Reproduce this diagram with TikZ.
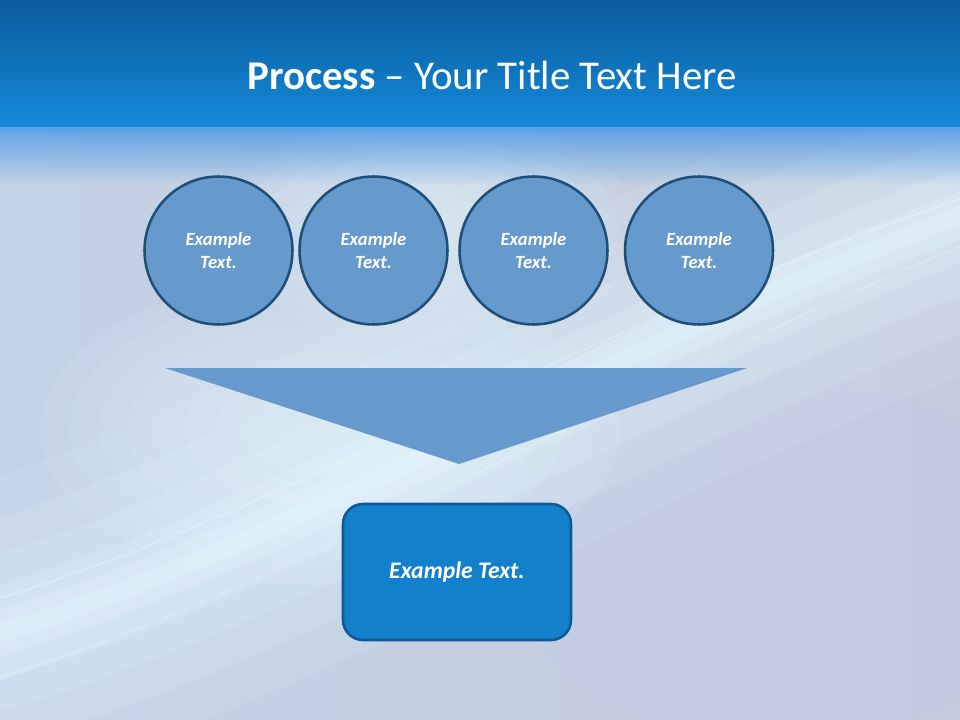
\documentclass[tikz,border=0pt]{standalone}
\usepackage{fontspec}
\setmainfont{Carlito}
\usetikzlibrary{shapes.geometric,fadings}
\definecolor{hdtop}{HTML}{0A5C9C}
\definecolor{hdbot}{HTML}{1489D8}
\definecolor{bgbase}{HTML}{C4D2E6}
\definecolor{bgright}{HTML}{C4CCDC}
\definecolor{circfill}{HTML}{6699CC}
\definecolor{circline}{HTML}{1F4E79}
\definecolor{boxfill}{HTML}{1380CC}
\definecolor{boxline}{HTML}{0F5A96}
\definecolor{glow}{HTML}{E6F8FF}
\definecolor{strip}{HTML}{5EA3E6}
\tikzset{
  stepcirc/.style={circle, draw=circline, line width=1.9pt, fill=circfill,
    minimum size=111pt, inner sep=0pt,
    text=white, font=\fontsize{14}{17}\selectfont\bfseries\itshape, align=center},
  resultbox/.style={rectangle, rounded corners=15pt, draw=boxline, line width=1.9pt,
    fill=boxfill, minimum width=171pt, minimum height=102pt, text=white,
    font=\fontsize{17.8}{21}\selectfont\bfseries\itshape},
  glowband/.style={draw=glow, line cap=round}
}
\begin{document}
\begin{tikzpicture}[x=0.75pt,y=-0.75pt]
\useasboundingbox (0,0) rectangle (960,720);
% background
\fill[bgbase] (0,0) rectangle (960,720);
\begin{scope}
\clip (0,127) rectangle (960,720);
\fill[left color=bgbase, right color=bgright] (0,127) rectangle (960,720);
\fill[blue!25, opacity=0.12] (780,560) ellipse (280 and 180);
\foreach \s in {1.0,0.9,0.8,0.7,0.6,0.5,0.4,0.3,0.2}{
  \fill[glow, opacity=0.09] (430,230) ellipse ({210*\s} and {115*\s});
  \fill[glow, opacity=0.09] (330,430) ellipse ({290*\s} and {155*\s});
}
\foreach \w/\o in {300/0.10, 220/0.14, 150/0.18, 90/0.22, 45/0.28, 18/0.32}{
  \draw[glowband, line width=\w*0.75pt, opacity=\o]
    (-60,650) .. controls (280,560) and (520,380) .. (1000,200);
}
\draw[white, opacity=0.3, line width=1pt]
    (-40,610) .. controls (280,520) and (540,340) .. (1000,185);
\draw[white, opacity=0.25, line width=0.8pt]
    (-40,690) .. controls (300,590) and (580,400) .. (1000,230);
\fill[strip, path fading=south] (0,127) rectangle (960,185);
\fill[strip] (0,127) rectangle (960,132);
\end{scope}
% header
\fill[top color=hdtop, bottom color=hdbot] (0,0) rectangle (960,127);
\node[text=white, font=\fontsize{30.7}{36}\selectfont] (title) at (492,75)
  {\textbf{Process} – Your Title Text Here};
% circles
\node[stepcirc] (c1) at (218.5,250.5) {Example\\Text.};
\node[stepcirc] (c2) at (373.5,250.5) {Example\\Text.};
\node[stepcirc] (c3) at (533.5,250.5) {Example\\Text.};
\node[stepcirc] (c4) at (699,250.5) {Example\\Text.};
% funnel triangle
\coordinate (tl) at (165,368);
\coordinate (tr) at (747,368);
\coordinate (tb) at (459,464);
\fill[circfill] (tl) -- (tr) -- (tb) -- cycle;
% result box
\node[resultbox] (res) at (457,572) {Example Text.};
\end{tikzpicture}
\end{document}
